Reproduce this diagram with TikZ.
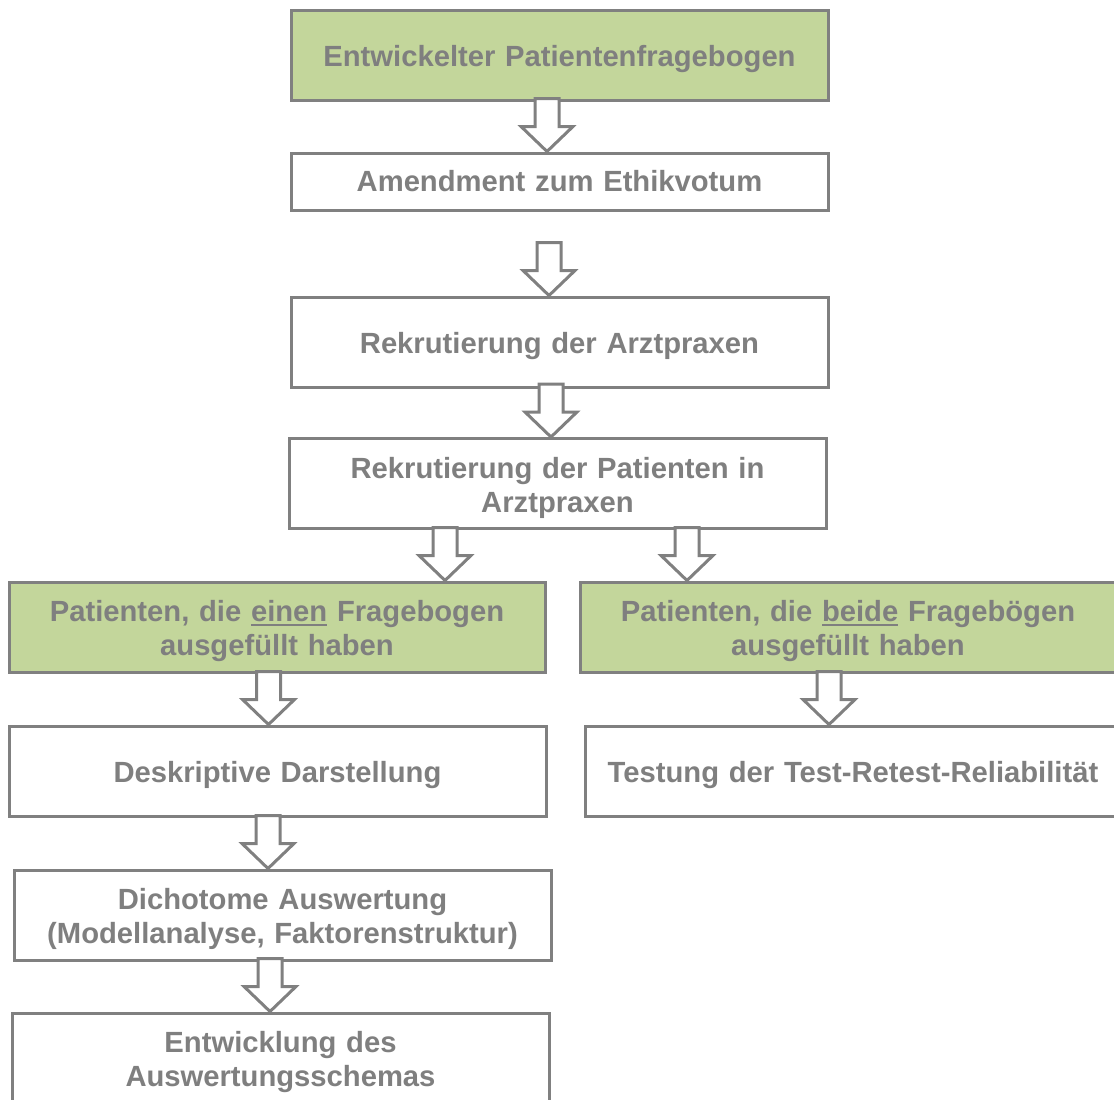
\documentclass[tikz,border=0pt]{standalone}
\usepackage{fontspec}
\setmainfont{Liberation Sans}
\usepackage{tikz}
\usetikzlibrary{positioning, calc}
\definecolor{linegray}{RGB}{128,128,128}
\definecolor{txtgray}{RGB}{127,127,127}
\definecolor{hdrgreen}{RGB}{195,214,155}
\newcommand{\boxfont}{\fontsize{29.2}{34}\selectfont\bfseries}
% strut that pushes the text a little down in its box
\newcommand{\lowstrut}{\rule{0pt}{30pt}}
% thick underline as in the slide
\newcommand{\ulword}[1]{\setbox0\hbox{#1}\rlap{\rule[-4.5pt]{\wd0}{2.4pt}}\box0\relax}
\tikzset{
  stepbox/.style={rectangle, draw=linegray, fill=white, line width=3pt,
    minimum width=537pt, minimum height=90pt, text width=530pt,
    align=center, inner sep=0pt, font=\boxfont, text=txtgray},
  greenbox/.style={stepbox, fill=hdrgreen},
  blockarr/.style={draw=linegray, fill=white, line width=3pt, line join=miter}
}
% hollow block arrow, tip at #1
\newcommand{\flowarrow}[1]{%
  \draw[blockarr] (#1) -- ++(-26,25) -- ++(14,0) -- ++(0,28)
    -- ++(24,0) -- ++(0,-28) -- ++(14,0) -- cycle;}

\begin{document}
\begin{tikzpicture}[x=1pt, y=1pt]
  \useasboundingbox (0,0) rectangle (1114,-1100);
  \clip (0,0) rectangle (1114,-1100);

  % main column
  \node[greenbox] (frage) at (559.5,-55) {\lowstrut Entwickelter Patientenfragebogen};
  \node[stepbox, minimum height=57pt] (amend) at (559.5,-181.5) {Amendment zum Ethikvotum};
  \node[stepbox] (rekpx) at (559.5,-342) {\lowstrut Rekrutierung der Arztpraxen};
  \node[stepbox] (rekpat) at (557.5,-483.5) {\lowstrut Rekrutierung der Patienten in\\Arztpraxen};

  % two groups of patients
  \node[greenbox, minimum width=536pt] (einen) at (277,-627)
    {\lowstrut Patienten, die \ulword{einen} Fragebogen\\ausgefüllt haben};
  \node[greenbox, minimum width=536pt] (beide) at (848,-627)
    {\lowstrut Patienten, die \ulword{beide} Fragebögen\\ausgefüllt haben};

  % left branch
  \node[stepbox] (deskr) at (277.5,-771) {\lowstrut Deskriptive Darstellung};
  \node[stepbox] (dicho) at (282.5,-915) {\lowstrut Dichotome Auswertung\\(Modellanalyse, Faktorenstruktur)};
  \node[stepbox] (entw) at (280.5,-1058) {\lowstrut Entwicklung des\\Auswertungsschemas};

  % right branch
  \node[stepbox, minimum width=536pt] (retest) at (853,-771) {\lowstrut Testung der Test-Retest-Reliabilität};

  % arrows
  \flowarrow{[xshift=-12.5pt]amend.north}
  \flowarrow{[xshift=-10.5pt]rekpx.north}
  \flowarrow{[xshift=-6.5pt]rekpat.north}
  \flowarrow{[xshift=168pt]einen.north}
  \flowarrow{[xshift=-161pt]beide.north}
  \flowarrow{[xshift=-9pt]deskr.north}
  \flowarrow{[xshift=-24pt]retest.north}
  \flowarrow{[xshift=-14.5pt]dicho.north}
  \flowarrow{[xshift=-10.5pt]entw.north}
\end{tikzpicture}
\end{document}
